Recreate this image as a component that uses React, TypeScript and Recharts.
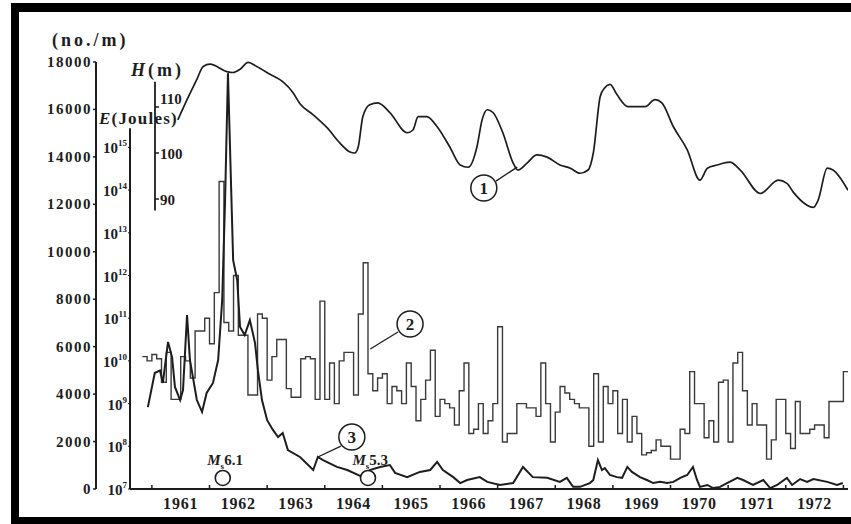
import React from 'react'
import { ComposedChart, Line, XAxis, YAxis, ReferenceLine, ReferenceDot } from 'recharts'

const SERIF = '"Liberation Serif", "DejaVu Serif", serif'
const INK = '#1d1d1d'

// axis ranges / ticks
const X_DOMAIN: [number, number] = [1960.62, 1973.08]
const yearTicks = [1961, 1962, 1963, 1964, 1965, 1966, 1967, 1968, 1969, 1970, 1971, 1972, 1973]
const yearLabels = [1961.5, 1962.5, 1963.5, 1964.5, 1965.5, 1966.5, 1967.5, 1968.5, 1969.5, 1970.5, 1971.5, 1972.5]
const countTicks = [0, 2000, 4000, 6000, 8000, 10000, 12000, 14000, 16000, 18000]
const energyTicks = [7, 8, 9, 10, 11, 12, 13, 14, 15]
const levelTicks = [90, 100, 110]

// curve 1: reservoir water level H (m)
const levelYears = [
  1961.45, 1961.61, 1961.78, 1961.89, 1962.01, 1962.3, 1962.41, 1962.53, 1962.67, 1962.82,
  1963.05, 1963.27, 1963.45, 1963.57, 1963.8, 1964.04, 1964.26, 1964.44, 1964.52, 1964.58,
  1964.66, 1964.78, 1964.92, 1965.13, 1965.43, 1965.53, 1965.62, 1965.77, 1965.95, 1966.17,
  1966.35, 1966.49, 1966.64, 1966.73, 1966.82, 1966.92, 1967.09, 1967.27, 1967.35, 1967.51,
  1967.68, 1967.86, 1968.08, 1968.26, 1968.43, 1968.57, 1968.66, 1968.78, 1968.86, 1968.95,
  1969.07, 1969.26, 1969.56, 1969.73, 1969.85, 1970.05, 1970.29, 1970.51, 1970.64, 1970.81,
  1971.03, 1971.21, 1971.56, 1971.87, 1972.02, 1972.13, 1972.48, 1972.56, 1972.72, 1972.82,
  1973.08,
]
const levelMetres = [
  107.2, 111.6, 116.0, 118.8, 119.3, 117.7, 117.5, 118.2, 119.7, 118.8,
  117.1, 115.5, 113.1, 110.7, 108.3, 105.5, 102.2, 100.2, 100.0, 101.3,
  107.9, 110.5, 110.9, 108.8, 104.4, 105.0, 107.9, 107.9, 105.7, 101.3,
  97.4, 96.9, 101.3, 107.2, 109.4, 108.8, 104.4, 97.8, 96.3, 97.8,
  99.6, 99.1, 97.4, 96.7, 95.6, 96.3, 100.0, 112.3, 114.2, 114.9,
  112.7, 110.1, 110.1, 111.6, 110.9, 105.7, 100.7, 94.1, 96.7, 97.4,
  98.0, 96.3, 91.2, 94.1, 93.4, 91.5, 88.2, 89.7, 96.7, 96.3,
  91.9,
]

// curve 2: monthly seismic energy, exponent of E (Joules), from Nov 1960
const ENERGY_START = 1960 + 10 / 12
const energyExp = [
  10.1, 10.0, 10.15, 10.05, 9.5, 10.2, 9.1, 9.1, 10.1, 10.0,
  9.6, 10.7, 10.7, 11.0, 10.4, 11.6, 14.2, 10.9, 10.7, 12.0,
  10.6, 10.6, 9.2, 9.2, 11.1, 11.0, 9.55, 10.1, 10.5, 10.5,
  9.35, 9.15, 9.15, 10.05, 10.1, 10.05, 9.1, 11.4, 9.1, 9.95,
  9.0, 10.0, 10.2, 10.2, 9.2, 11.1, 12.3, 9.7, 9.3, 9.6,
  9.7, 9.0, 9.4, 9.3, 9.0, 9.95, 9.4, 8.6, 9.1, 9.55,
  10.25, 8.7, 9.1, 9.0, 8.9, 8.5, 9.3, 9.95, 8.3, 8.4,
  9.0, 8.3, 8.6, 9.0, 10.8, 8.1, 8.3, 8.3, 9.0, 9.0,
  8.9, 8.9, 8.7, 9.95, 9.0, 8.1, 8.8, 9.4, 9.25, 9.1,
  9.0, 8.9, 8.9, 8.0, 9.7, 8.1, 9.4, 9.0, 9.3, 8.3,
  9.1, 8.1, 8.7, 8.3, 7.8, 7.85, 7.9, 8.15, 8.0, 8.0,
  7.7, 7.7, 8.4, 8.3, 9.75, 9.0, 9.0, 8.2, 8.6, 8.1,
  9.5, 9.55, 8.1, 9.95, 10.2, 9.3, 8.5, 9.0, 8.5, 8.5,
  7.7, 8.15, 9.1, 9.1, 8.3, 7.95, 9.05, 8.3, 8.3, 8.4,
  8.5, 8.5, 8.2, 9.05, 9.05, 9.05, 9.75,
]

// curve 3: earthquake frequency (no./month)
const countYears = [
  1960.93, 1961.05, 1961.14, 1961.19, 1961.28, 1961.35, 1961.4, 1961.49, 1961.54, 1961.61,
  1961.66, 1961.78, 1961.87, 1961.95, 1962.06, 1962.15, 1962.22, 1962.27, 1962.32, 1962.41,
  1962.48, 1962.53, 1962.61, 1962.7, 1962.79, 1962.84, 1962.91, 1963.0, 1963.1, 1963.19,
  1963.27, 1963.36, 1963.57, 1963.8, 1963.88, 1963.97, 1964.21, 1964.39, 1964.66, 1964.78,
  1964.96, 1965.13, 1965.22, 1965.43, 1965.65, 1965.83, 1965.95, 1966.05, 1966.23, 1966.35,
  1966.47, 1966.69, 1966.82, 1967.04, 1967.27, 1967.44, 1967.61, 1967.86, 1968.08, 1968.2,
  1968.31, 1968.43, 1968.6, 1968.66, 1968.74, 1968.81, 1968.86, 1968.95, 1969.07, 1969.16,
  1969.25, 1969.33, 1969.47, 1969.59, 1969.7, 1969.82, 1969.94, 1970.05, 1970.17, 1970.29,
  1970.39, 1970.46, 1970.51, 1970.64, 1970.74, 1970.86, 1970.98, 1971.16, 1971.26, 1971.43,
  1971.61, 1971.73, 1971.85, 1972.02, 1972.11, 1972.25, 1972.37, 1972.48, 1972.72, 1972.89,
  1972.99,
]
const countValues = [
  3450, 4890, 5000, 4470, 6200, 5560, 4300, 3750, 4170, 7330,
  5440, 3750, 3250, 4050, 4470, 5440, 7970, 12180, 17530, 9650,
  8810, 6830, 6490, 7120, 6150, 5000, 3750, 2900, 2490, 2190,
  2360, 1640, 1350, 800, 1350, 1220, 930, 800, 500, 800,
  930, 1010, 680, 500, 720, 800, 1140, 800, 500, 250,
  380, 500, 300, 170, 250, 930, 500, 470, 300, 470,
  90, 90, 250, 380, 1220, 800, 880, 590, 500, 470,
  930, 720, 500, 380, 250, 300, 250, 300, 470, 590,
  930, 380, 90, 170, 40, 90, 250, 470, 380, 170,
  380, 40, 170, 470, 170, 420, 300, 420, 300, 170,
  250,
]

// earthquakes marked on the time axis
const quakeYears = [1962.23, 1964.75]
const quakeMags = ['6.1', '5.3']

const levelData = levelYears.map((t, i) => ({ t, h: levelMetres[i] }))
const energyData = energyExp.map((e, i) => ({ t: ENERGY_START + i / 12, e }))
energyData.push({ t: ENERGY_START + energyExp.length / 12, e: energyExp[energyExp.length - 1] })
const countData = countYears.map((t, i) => ({ t, c: countValues[i] }))

const H_AXIS_AT = 1961.054

function CountTick({ x, y, payload }: any) {
  return (
    <text x={x} y={y} dy={5} textAnchor="end" fontFamily={SERIF} fontWeight="bold" fontSize={15} letterSpacing={1.5} fill={INK}>
      {payload.value}
    </text>
  )
}

function EnergyTick({ x, y, payload }: any) {
  return (
    <text x={x} y={y} dy={6} textAnchor="end" fontFamily={SERIF} fontWeight="bold" fontSize={15} fill={INK}>
      10<tspan dy={-7} fontSize={9}>{payload.value}</tspan>
    </text>
  )
}

function YearTick({ x, y, payload }: any) {
  return (
    <text x={x} y={y} dy={20} textAnchor="middle" fontFamily={SERIF} fontWeight="bold" fontSize={16} letterSpacing={0.8} fill={INK}>
      {Math.floor(payload.value)}
    </text>
  )
}

const circled = (n: string) => (p: any) => (
  <g>
    <circle cx={p.cx} cy={p.cy} r={13} fill="#fff" stroke={INK} strokeWidth={1.5} />
    <text x={p.cx} y={p.cy} dy={6} textAnchor="middle" fontFamily={SERIF} fontWeight="bold" fontSize={17} fill={INK}>
      {n}
    </text>
  </g>
)

const quakeLabel = (mag: string) => (p: any) => (
  <text x={p.cx} y={p.cy} dy={5} textAnchor="middle" fontFamily={SERIF} fontWeight="bold" fontSize={15} fill={INK}>
    <tspan fontStyle="italic">M</tspan>
    <tspan dy={4} fontSize={9}>s</tspan>
    <tspan dy={-4}>{mag}</tspan>
  </text>
)

const quakeRing = (p: any) => <circle cx={p.cx} cy={p.cy} r={7.5} fill="#fff" stroke={INK} strokeWidth={1.6} />

const title = (left: number, top: number, spacing: number, size = 18): React.CSSProperties => ({
  position: 'absolute',
  left,
  top,
  fontFamily: SERIF,
  fontWeight: 'bold',
  fontSize: size,
  lineHeight: 1,
  letterSpacing: spacing,
  color: INK,
  whiteSpace: 'nowrap',
})

export default function App() {
  return (
    <div style={{ position: 'absolute', left: 0, top: 0, width: 851, height: 524, overflow: 'hidden', background: '#fff' }}>
      <div
        style={{
          position: 'absolute',
          left: 11,
          top: 3,
          width: 860,
          height: 521,
          boxSizing: 'border-box',
          borderLeft: '8px solid #000',
          borderTop: '9px solid #000',
          borderBottom: '7px solid #000',
        }}
      />
      <div style={title(52, 31, 3)}>(no./m)</div>
      <div style={title(131, 61, 3)}>
        <i>H</i>(m)
      </div>
      <div style={title(99, 110, 1.2, 17)}>
        <i>E</i>(Joules)
      </div>
      <div style={{ position: 'absolute', left: 0, top: 0 }}>
        <ComposedChart width={851} height={524} margin={{ top: 62, right: 3, bottom: 0, left: 36 }}>
          <XAxis
            type="number"
            dataKey="t"
            domain={X_DOMAIN}
            ticks={yearLabels}
            interval={0}
            tickLine={false}
            tickSize={0}
            tickMargin={0}
            tick={<YearTick />}
            axisLine={{ stroke: INK, strokeWidth: 2 }}
            height={35}
            allowDataOverflow
          />
          <YAxis
            yAxisId="b_count"
            orientation="left"
            width={60}
            domain={[0, 18000]}
            ticks={countTicks}
            interval={0}
            axisLine={{ stroke: INK, strokeWidth: 2 }}
            tickSize={3}
            tickMargin={1}
            tickLine={{ stroke: INK, strokeWidth: 1.5 }}
            tick={<CountTick />}
            allowDataOverflow
          />
          <YAxis
            yAxisId="a_energy"
            orientation="left"
            width={34}
            domain={[7, 17]}
            ticks={energyTicks}
            interval={0}
            axisLine={false}
            tickSize={2}
            tickMargin={1}
            tickLine={{ stroke: INK }}
            tick={<EnergyTick />}
            allowDataOverflow
          />
          <YAxis yAxisId="h" hide domain={[26.96, 119.78]} />

          {/* year boundaries: small ticks standing on the time axis */}
          {yearTicks.map((t) => (
            <ReferenceLine
              key={'yt' + t}
              yAxisId="b_count"
              ifOverflow="visible"
              segment={[{ x: t, y: 0 }, { x: t, y: 170 }]}
              stroke={INK}
              strokeWidth={1.5}
            />
          ))}

          <ReferenceLine
            yAxisId="a_energy"
            ifOverflow="visible"
            segment={[{ x: X_DOMAIN[0], y: 7 }, { x: X_DOMAIN[0], y: 15.45 }]}
            stroke={INK}
            strokeWidth={2}
          />
          <ReferenceLine
            yAxisId="h"
            ifOverflow="visible"
            segment={[{ x: H_AXIS_AT, y: 115.5 }, { x: H_AXIS_AT, y: 87.5 }]}
            stroke={INK}
            strokeWidth={1.8}
          />
          {levelTicks.map((v) => (
            <ReferenceLine
              key={v}
              yAxisId="h"
              ifOverflow="visible"
              segment={[{ x: H_AXIS_AT, y: v }, { x: H_AXIS_AT + 0.07, y: v }]}
              stroke={INK}
              strokeWidth={1.5}
              label={{
                content: (p: any) => (
                  <text
                    x={p.viewBox.x + p.viewBox.width + 1}
                    y={p.viewBox.y}
                    dy={v === 110 ? -3 : 6}
                    fontFamily={SERIF}
                    fontWeight="bold"
                    fontSize={15}
                    fill={INK}
                  >
                    {v}
                  </text>
                ),
              }}
            />
          ))}

          <Line
            yAxisId="a_energy"
            data={energyData}
            dataKey="e"
            type="stepAfter"
            stroke="#3a3a3a"
            strokeWidth={1.4}
            dot={false}
            isAnimationActive={false}
          />
          <Line
            yAxisId="b_count"
            data={countData}
            dataKey="c"
            type="linear"
            stroke={INK}
            strokeWidth={2}
            dot={false}
            isAnimationActive={false}
          />
          <Line
            yAxisId="h"
            data={levelData}
            dataKey="h"
            type="monotone"
            stroke={INK}
            strokeWidth={1.7}
            dot={false}
            isAnimationActive={false}
          />

          {/* leader lines and curve numbers */}
          <ReferenceLine yAxisId="b_count" ifOverflow="visible" segment={[{ x: 1966.97, y: 12980 }, { x: 1967.34, y: 13570 }]} stroke={INK} strokeWidth={1.3} />
          <ReferenceLine yAxisId="b_count" ifOverflow="visible" segment={[{ x: 1965.27, y: 6620 }, { x: 1964.79, y: 5900 }]} stroke={INK} strokeWidth={1.3} />
          <ReferenceLine yAxisId="b_count" ifOverflow="visible" segment={[{ x: 1964.28, y: 1810 }, { x: 1963.88, y: 1350 }]} stroke={INK} strokeWidth={1.3} />
          <ReferenceDot yAxisId="b_count" x={1966.76} y={12690} ifOverflow="visible" shape={circled('1')} />
          <ReferenceDot yAxisId="b_count" x={1965.48} y={6955} ifOverflow="visible" shape={circled('2')} />
          <ReferenceDot yAxisId="b_count" x={1964.47} y={2190} ifOverflow="visible" shape={circled('3')} />

          {quakeYears.map((t, i) => (
            <ReferenceDot key={'q' + i} yAxisId="b_count" x={t} y={465} ifOverflow="visible" shape={quakeRing} />
          ))}
          {quakeYears.map((t, i) => (
            <ReferenceDot key={'m' + i} yAxisId="b_count" x={t + 0.04} y={1230} ifOverflow="visible" shape={quakeLabel(quakeMags[i])} />
          ))}
        </ComposedChart>
      </div>
    </div>
  )
}
